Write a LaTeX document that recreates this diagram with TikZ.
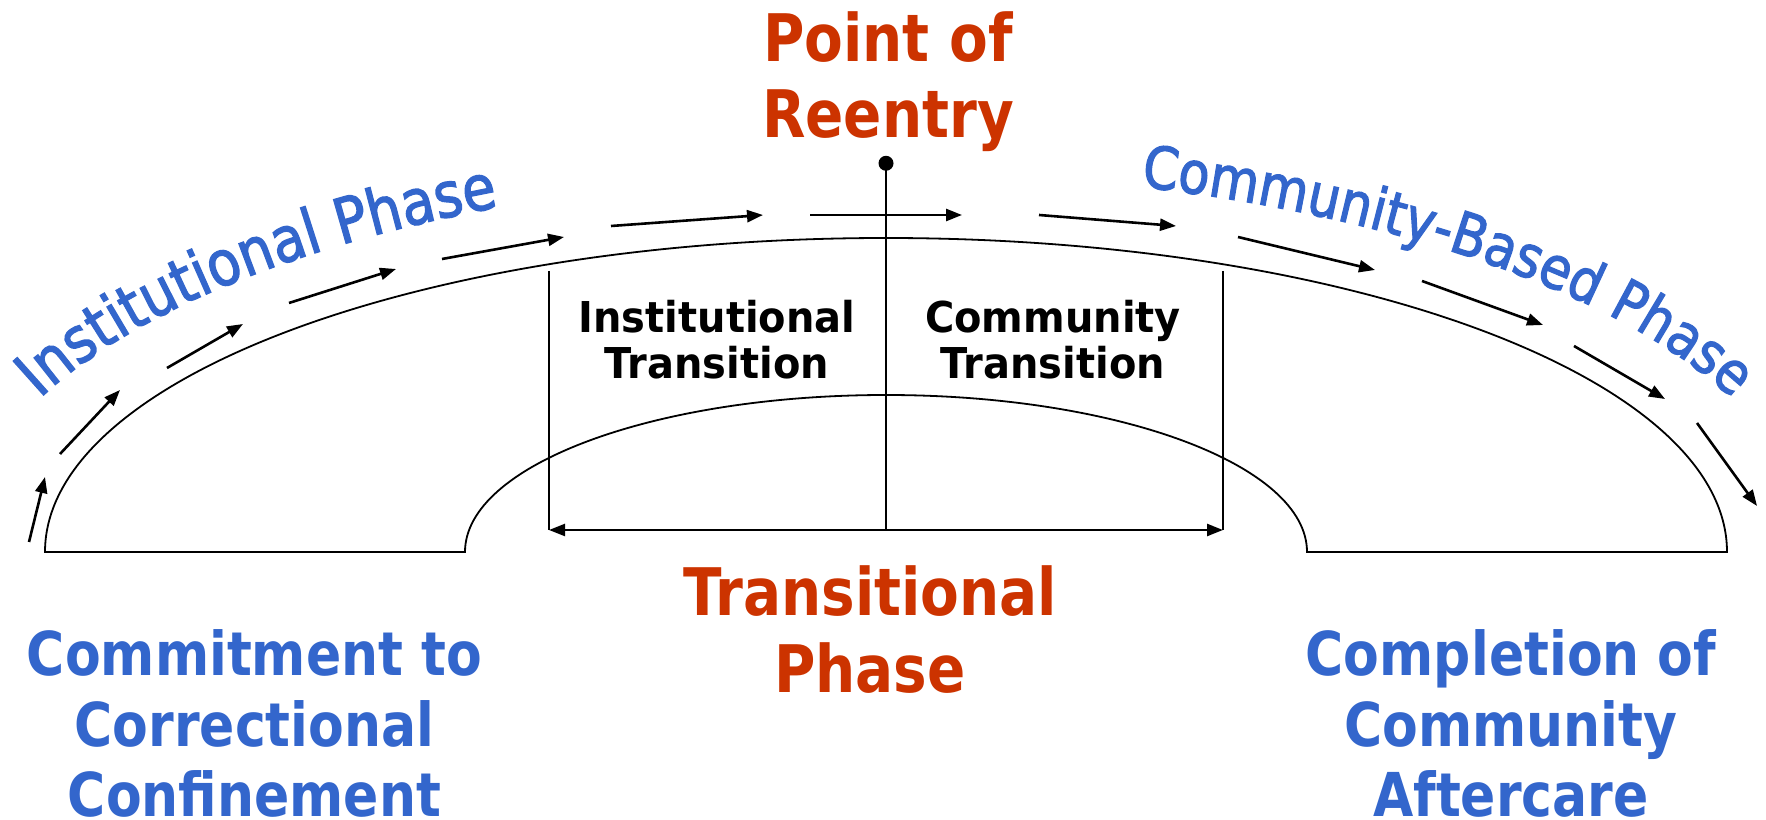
\documentclass[tikz,border=0pt]{standalone}
\usepackage{fontspec}
\usetikzlibrary{arrows.meta,decorations.text}
\definecolor{phaseblue}{RGB}{51,102,204}
\definecolor{reentryred}{RGB}{204,51,0}
\newfontfamily\headfont[FakeStretch=0.86]{DejaVu Sans Bold}
\newfontfamily\stagefont[FakeStretch=0.94]{DejaVu Sans Bold}
\newfontfamily\arcfont[FakeStretch=0.87,FakeBold=2]{DejaVu Sans}

\begin{document}
\begin{tikzpicture}[
  x=1pt, y=1pt,
  arch/.style = {line width=1.8pt},
  guide/.style = {line width=1.5pt},
  flow/.style = {-{Triangle[length=16pt,width=12pt]}, line width=2.6pt},
  span/.style = {{Triangle[length=16pt,width=12pt]}-{Triangle[length=16pt,width=12pt]}, line width=2.4pt},
  redtitle/.style = {anchor=base, inner sep=0pt, text=reentryred, font=\headfont\fontsize{65.6}{76}\selectfont},
  bluetitle/.style = {anchor=base, inner sep=0pt, text=phaseblue, font=\headfont\fontsize{60.5}{71}\selectfont},
  stage/.style = {anchor=base, inner sep=0pt, font=\stagefont\fontsize{42.5}{46}\selectfont},
  arctext/.style 2 args = {decorate, decoration={text along path, text align=left, text color=phaseblue,
    text={|\arcfont\fontsize{#2}{#2}\selectfont|#1}}}
]
\useasboundingbox (0,0) rectangle (1766,819);

% arch outline
\coordinate (hub) at (886,267);
\coordinate (outerL) at (45,267);
\coordinate (innerR) at (1307,267);
\draw[arch] (outerL) arc[start angle=180, end angle=0, x radius=841, y radius=314]
  -- (innerR) arc[start angle=0, end angle=180, x radius=421, y radius=157] -- cycle;

% transitional phase span
\coordinate (instTop) at (549,548);
\coordinate (instFoot) at (549,289);
\coordinate (commTop) at (1223,548);
\coordinate (commFoot) at (1223,289);
\coordinate (reentryFoot) at (886,289);
\node[circle, fill, inner sep=0pt, minimum size=15pt] (reentry) at (886,655.7) {};
\draw[guide] (instTop) -- (instFoot);
\draw[guide] (commTop) -- (commFoot);
\draw[line width=2.2pt] (reentry.center) -- (reentryFoot);
\draw[span] (instFoot) -- (commFoot);

% arrows over the arch
\foreach \xa/\ya/\xb/\yb in {29/277/45/342, 60/365/120/429, 167/451/243/495,
    289/516/396/550, 442/560/564/582, 611/593/763/604, 810/604/962/604,
    1039/604/1176/593, 1238/582/1375/549, 1422/538/1543/494,
    1574/473/1665/420, 1697/396/1757/313}
  \draw[flow] (\xa,\ya) -- (\xb,\yb);

% phase names on the curve
\path[arctext={Institutional Phase}{62.5}, shift={(hub)}]
  (156.2:925 and 380) arc[start angle=156.2, end angle=95, x radius=925, y radius=380];
\path[arctext={Community-Based Phase}{58.5}, shift={(hub)}]
  (74:925 and 380) arc[start angle=74, end angle=0, x radius=925, y radius=380];

% labels
\node[redtitle] (pointof) at (888,757.3) {Point of};
\node[redtitle] (reentrylbl) at (888,681.7) {Reentry};
\node[redtitle] (transitional) at (870,203) {Transitional};
\node[redtitle] (phase) at (870,126.3) {Phase};
\node[bluetitle] (commitment) at (254.5,143.5) {Commitment to};
\node[bluetitle] (correctional) at (254.5,72.5) {Correctional};
\node[bluetitle] (confinement) at (254.5,2.5) {Confinement};
\node[bluetitle] (completion) at (1511,143.5) {Completion of};
\node[bluetitle] (community) at (1511,72.5) {Community};
\node[bluetitle] (aftercare) at (1511,2.5) {Aftercare};
\node[stage] (instA) at (717,486.3) {Institutional};
\node[stage] (instB) at (717,440) {Transition};
\node[stage] (commA) at (1053,486.3) {Community};
\node[stage] (commB) at (1053,440) {Transition};
\end{tikzpicture}
\end{document}
